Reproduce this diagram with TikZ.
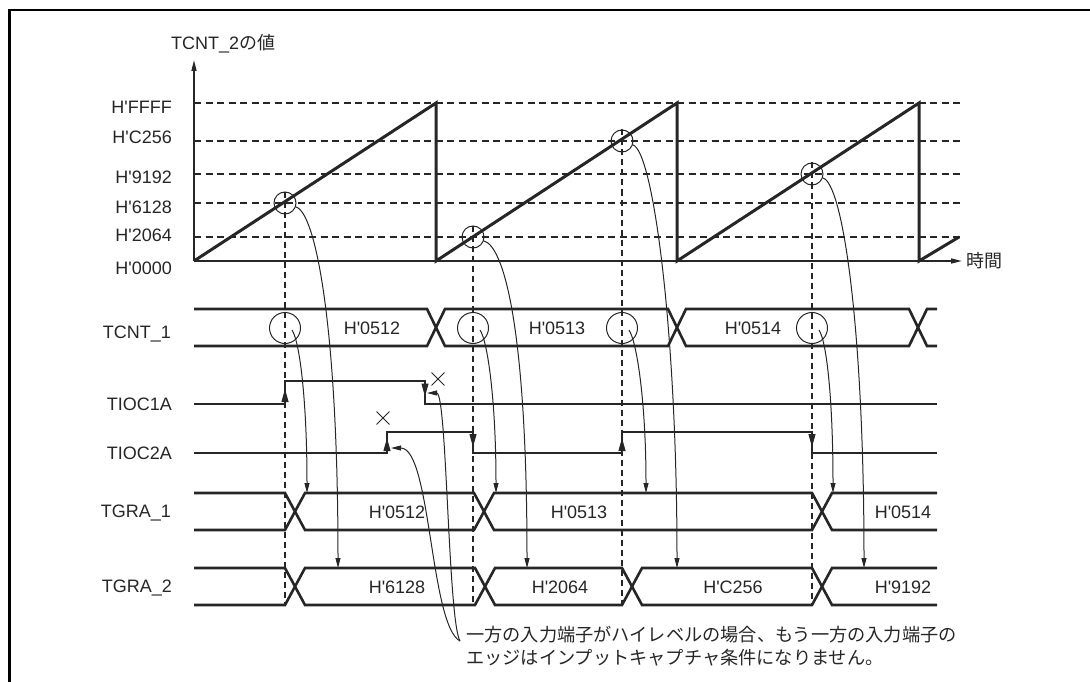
\documentclass[tikz,border=0pt]{standalone}
\usepackage{fontspec}
\setmainfont{Liberation Sans}
\newfontfamily\jp{Noto Sans CJK JP}
\usepackage{tikz}
\usetikzlibrary{arrows.meta,calc,shapes.misc}
\definecolor{ink}{RGB}{38,38,38}
\newcommand{\labfont}{\fontsize{18}{22.5}\selectfont}
\newcommand{\hv}[1]{H\textquotesingle#1}
\tikzset{
  boxedge/.style={line width=2.6pt, color=black},
  lvl/.style={dashed, dash pattern=on 7pt off 4.5pt, line width=1.1pt, color=ink},
  guide/.style={dashed, dash pattern=on 6pt off 4pt, line width=1.1pt, color=ink},
  ramp/.style={line width=3pt, color=ink},
  axisline/.style={line width=1.4pt, color=ink, -{Stealth[length=11pt,width=5pt,inset=0pt]}},
  bus/.style={line width=2.6pt, color=ink},
  edgetip/.style={line width=1pt, color=ink, -{Stealth[length=13pt,width=7pt,inset=0pt]}},
  capring/.style={circle, draw=ink, line width=1pt, minimum size=22pt, inner sep=0pt},
  cntring/.style={capring, minimum size=31pt},
  capline/.style={-{Stealth[length=10pt,width=5pt,inset=0pt]}, line width=1pt, color=ink},
  xmark/.style={cross out, draw=ink, line width=0.9pt, minimum size=12pt, inner sep=0pt},
  lab/.style={font=\labfont, text=ink, inner sep=0pt, text height=12.9pt, text depth=0pt},
  note/.style={font=\fontsize{18.2}{22.5}\selectfont\jp, text=ink, inner sep=0pt, align=left},
}
\begin{document}
\begin{tikzpicture}[x=1pt,y=-1pt]
  \useasboundingbox (0,0) rectangle (1090,682);
  \draw[boxedge] (9.5,682) -- (9.5,10) -- (1090,10);
  % TCNT_2 counter
  \coordinate (origin) at (194,261);
  \coordinate (base) at (0,605);
  \node[lab, anchor=west] (ytitle) at (171,43) {TCNT\_2{\jp の値}};
  \node[lab, anchor=west] (xtitle) at (966,261) {\jp 時間};
  \node[lab, anchor=east] (vFFFF) at (172,107.3) {\hv{FFFF}};
  \node[lab, anchor=east] (vC256) at (172,137.3) {\hv{C256}};
  \node[lab, anchor=east] (v9192) at (172,176.7) {\hv{9192}};
  \node[lab, anchor=east] (v6128) at (172,207.3) {\hv{6128}};
  \node[lab, anchor=east] (v2064) at (172,235) {\hv{2064}};
  \node[lab, anchor=east] (v0000) at (172,267.7) {\hv{0000}};
  \draw[lvl] (194,103) -- (960,103);
  \draw[lvl] (194,141) -- (960,141);
  \draw[lvl] (194,174) -- (960,174);
  \draw[lvl] (194,203) -- (960,203);
  \draw[lvl] (194,237) -- (960,237);
  \draw[axisline] (origin) -- (194,60);
  \draw[axisline] (origin) -- (962,261);
  \draw[ramp] (origin) -- (436,103) -- (436,261) -- (677,103) -- (677,261) -- (919,103) -- (919,261) -- (959,237);
  \node[capring] (r1) at (285,203) {};
  \node[capring] (r2) at (473,237) {};
  \node[capring] (r3) at (622,141) {};
  \node[capring] (r4) at (812,174) {};
  % signal names
  \node[lab, anchor=east] (sTCNT1) at (171,331.7) {TCNT\_1};
  \node[lab, anchor=east] (sTIOC1A) at (172,404.3) {TIOC1A};
  \node[lab, anchor=east] (sTIOC2A) at (172,453.3) {TIOC2A};
  \node[lab, anchor=east] (sTGRA1) at (171,510.8) {TGRA\_1};
  \node[lab, anchor=east] (sTGRA2) at (172,585.8) {TGRA\_2};
  % TCNT_1
  \draw[bus] (194,309) -- (427,309) -- (445,346) -- (668,346) -- (686,309) -- (909,309) -- (927,346) -- (937,346);
  \draw[bus] (194,346) -- (427,346) -- (445,309) -- (668,309) -- (686,346) -- (909,346) -- (927,309) -- (937,309);
  \node[lab] (n0512) at (372,328) {\hv{0512}};
  \node[lab] (n0513) at (557,328) {\hv{0513}};
  \node[lab] (n0514) at (753,328) {\hv{0514}};
  \node[cntring] (c1) at (285,328) {};
  \node[cntring] (c2) at (473,328) {};
  \node[cntring] (c3) at (622,328) {};
  \node[cntring] (c4) at (812,328) {};
  % TIOC1A, TIOC2A
  \draw[bus] (194,404) -- (285,404) -- (285,381) -- (425,381) -- (425,404) -- (937,404);
  \draw[bus] (194,453) -- (387,453) -- (387,432) -- (473,432) -- (473,453) -- (622,453) -- (622,432) -- (812,432) -- (812,453) -- (937,453);
  \draw[edgetip] (285,404) -- (285,389);
  \draw[edgetip] (425,381) -- (425,396.5);
  \draw[edgetip] (387,453) -- (387,438);
  \draw[edgetip] (473,432) -- (473,447);
  \draw[edgetip] (622,453) -- (622,438);
  \draw[edgetip] (812,432) -- (812,447);
  \node[xmark] (x1) at (438,379) {};
  \node[xmark] (x2) at (383,418) {};
  % TGRA_1
  \draw[bus] (194,493) -- (285,493) -- (305,530) -- (474,530) -- (494,493) -- (812,493) -- (832,530) -- (937,530);
  \draw[bus] (194,530) -- (285,530) -- (305,493) -- (474,493) -- (494,530) -- (812,530) -- (832,493) -- (937,493);
  \node[lab] (a0512) at (397,512) {\hv{0512}};
  \node[lab] (a0513) at (579,512) {\hv{0513}};
  \node[lab] (a0514) at (903,512) {\hv{0514}};
  % TGRA_2
  \draw[bus] (194,568) -- (285,568) -- (305,605) -- (475,605) -- (495,568) -- (622,568) -- (642,605) -- (812,605) -- (832,568) -- (937,568);
  \draw[bus] (194,605) -- (285,605) -- (305,568) -- (475,568) -- (495,605) -- (622,605) -- (642,568) -- (812,568) -- (832,605) -- (937,605);
  \node[lab] (b6128) at (397,587) {\hv{6128}};
  \node[lab] (b2064) at (560,587) {\hv{2064}};
  \node[lab] (bC256) at (733,587) {\hv{C256}};
  \node[lab] (b9192) at (903,587) {\hv{9192}};
  % capture guides and transfers
  \draw[guide] (r1.north) -- (r1 |- base);
  \draw[guide] (r2.north) -- (r2 |- base);
  \draw[guide] (r3.north) -- (r3 |- base);
  \draw[guide] (r4.north) -- (r4 |- base);
  \coordinate (t1a) at (307,493); \coordinate (t1b) at (496,493); \coordinate (t1c) at (646,493); \coordinate (t1d) at (833,493);
  \coordinate (t2a) at (338,568); \coordinate (t2b) at (527,568); \coordinate (t2c) at (677,568); \coordinate (t2d) at (864,568);
  \draw[capline] ([shift={(7,2)}]c1.center) .. controls +(8,12) and +(0,-90) .. (t1a);
  \draw[capline] ([shift={(7,2)}]c2.center) .. controls +(8,12) and +(0,-90) .. (t1b);
  \draw[capline] ([shift={(7,2)}]c3.center) .. controls +(8,12) and +(0,-90) .. (t1c);
  \draw[capline] ([shift={(7,2)}]c4.center) .. controls +(8,12) and +(0,-90) .. (t1d);
  \draw[capline] (r1.-20) .. controls +(20,5) and +(0,-240) .. (t2a);
  \draw[capline] (r2.-20) .. controls +(20,5) and +(0,-240) .. (t2b);
  \draw[capline] (r3.-20) .. controls +(20,5) and +(0,-240) .. (t2c);
  \draw[capline] (r4.-20) .. controls +(20,5) and +(0,-240) .. (t2d);
  % note on ignored edges
  \node[note, anchor=west] (note) at (466,646.3) {一方の入力端子がハイレベルの場合、もう一方の入力端子の\\エッジはインプットキャプチャ条件になりません。};
  \coordinate (fork) at (460,641);
  \coordinate (e1) at (427,393);
  \coordinate (e2) at (391,448);
  \draw[capline] (fork) .. controls +(-12,-21) and +(20,0) .. (e1);
  \draw[capline] (fork) .. controls +(-30,-16) and +(40,0) .. (e2);
\end{tikzpicture}
\end{document}
